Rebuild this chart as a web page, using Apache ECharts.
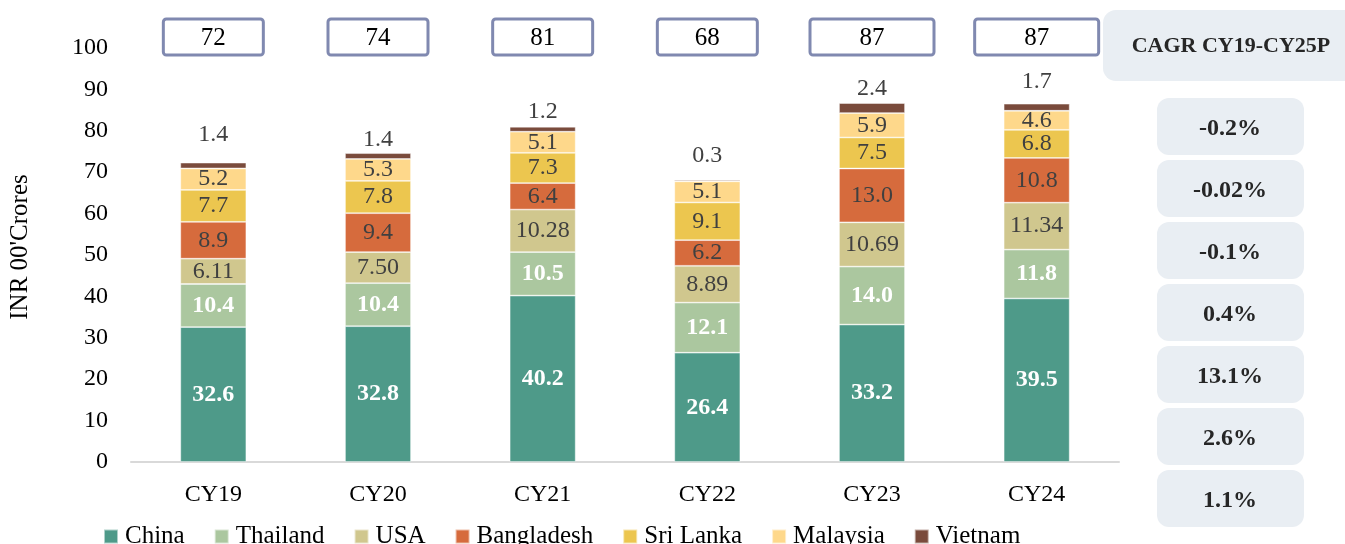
<!DOCTYPE html>
<html>
<head>
<meta charset="utf-8">
<script src="https://cdn.jsdelivr.net/npm/echarts@6/dist/echarts.min.js"></script>
<style>
  html, body { margin: 0; padding: 0; background: #fff; }
  #chart { width: 1345px; height: 544px; }
</style>
</head>
<body>
<div id="chart"></div>
<script>
// Imports by source country, INR 00' Crores
const years = ['CY19', 'CY20', 'CY21', 'CY22', 'CY23', 'CY24'];
const china      = [32.6, 32.8, 40.2, 26.4, 33.2, 39.5];
const thailand   = [10.4, 10.4, 10.5, 12.1, 14.0, 11.8];
const usa        = [6.11, 7.50, 10.28, 8.89, 10.69, 11.34];
const bangladesh = [8.9, 9.4, 6.4, 6.2, 13.0, 10.8];
const sriLanka   = [7.7, 7.8, 7.3, 9.1, 7.5, 6.8];
const malaysia   = [5.2, 5.3, 5.1, 5.1, 5.9, 4.6];
const vietnam    = [1.4, 1.4, 1.2, 0.3, 2.4, 1.7];
const totals     = ['72', '74', '81', '68', '87', '87'];
const cagrTitle  = 'CAGR CY19-CY25P';
const cagrValues = ['-0.2%', '-0.02%', '-0.1%', '0.4%', '13.1%', '2.6%', '1.1%'];

// Layout: how far each Vietnam label sits above its column (px)
const vietnamLabelGap = [16, 1, 3, 12, 2, 10];

const FONT = '"Liberation Serif", "Times New Roman", serif';
const LABEL_DARK = '#404040';

const seriesDefs = [
  { name: 'China',      data: china,      color: '#4e9a89', light: true,  digits: 1 },
  { name: 'Thailand',   data: thailand,   color: '#abc79f', light: true,  digits: 1 },
  { name: 'USA',        data: usa,        color: '#d0c78e', light: false, digits: 2 },
  { name: 'Bangladesh', data: bangladesh, color: '#d66b3d', light: false, digits: 1 },
  { name: 'Sri Lanka',  data: sriLanka,   color: '#ecc64f', light: false, digits: 1 },
  { name: 'Malaysia',   data: malaysia,   color: '#fed88b', light: false, digits: 1 },
  { name: 'Vietnam',    data: vietnam,    color: '#7a4b3c', light: false, digits: 1, outside: true }
];

const series = seriesDefs.map(function (d) {
  const data = d.outside
    ? d.data.map(function (v, i) { return { value: v, label: { distance: vietnamLabelGap[i] } }; })
    : d.data;
  return {
    name: d.name,
    type: 'bar',
    stack: 'total',
    barWidth: 66,
    data: data,
    itemStyle: { color: d.color, borderColor: 'rgba(255,255,255,0.55)', borderWidth: 0.8 },
    emphasis: { disabled: true },
    label: {
      show: true,
      position: d.outside ? 'top' : 'inside',
      distance: 5,
      fontFamily: FONT,
      fontSize: 24,
      fontWeight: d.light ? 'bold' : 'normal',
      color: d.light ? '#ffffff' : LABEL_DARK,
      formatter: function (p) { return Number(p.value).toFixed(d.digits); }
    }
  };
});

const chart = echarts.init(document.getElementById('chart'), null, { renderer: 'canvas' });

chart.setOption({
  animation: false,
  backgroundColor: '#ffffff',
  textStyle: { fontFamily: FONT },
  grid: { left: 131, right: 226, top: 48, bottom: 82, containLabel: false },
  legend: {
    data: seriesDefs.map(function (d) { return d.name; }),
    left: 103,
    top: 524,
    padding: 0,
    itemWidth: 14,
    itemHeight: 14,
    itemGap: 29,
    icon: 'rect',
    textStyle: { fontFamily: FONT, fontSize: 25, color: '#000', padding: [0, 0, 0, 2] }
  },
  xAxis: {
    type: 'category',
    data: years,
    axisLine: { show: true, lineStyle: { color: '#d9d9d9', width: 2 } },
    axisTick: { show: false },
    axisLabel: { fontFamily: FONT, fontSize: 24, color: '#000', margin: 21 }
  },
  yAxis: {
    type: 'value',
    min: 0,
    max: 100,
    interval: 10,
    axisLine: { show: false },
    axisTick: { show: false },
    splitLine: { show: false },
    axisLabel: { fontFamily: FONT, fontSize: 24, color: '#000', margin: 23 }
  },
  series: series
});

// Boxed totals above each column, the axis title and the CAGR panel on the right
const boxWidths = [100, 100, 100, 100, 124, 124];
const graphics = [];

graphics.push({
  type: 'text',
  x: 20, y: 247,
  rotation: Math.PI / 2,
  style: { text: "INR 00'Crores", font: '25px ' + FONT, fill: '#000', align: 'center', verticalAlign: 'middle' }
});

years.forEach(function (y, i) {
  const cx = chart.convertToPixel({ xAxisIndex: 0 }, y);
  const w = boxWidths[i];
  graphics.push({
    type: 'rect',
    shape: { x: cx - w / 2, y: 19, width: w, height: 36, r: 3 },
    style: { fill: '#ffffff', stroke: '#8089b0', lineWidth: 3 },
    z: 10
  });
  graphics.push({
    type: 'text',
    x: cx, y: 38,
    style: { text: totals[i], font: '25px ' + FONT, fill: '#000', align: 'center', verticalAlign: 'middle' },
    z: 11
  });
});

graphics.push({
  type: 'rect',
  shape: { x: 1103, y: 10, width: 270, height: 71, r: 13 },
  style: { fill: '#e9eef3' },
  z: 10
});
graphics.push({
  type: 'text',
  x: 1231, y: 46,
  style: { text: cagrTitle, font: 'bold 22px ' + FONT, fill: '#262626', align: 'center', verticalAlign: 'middle' },
  z: 11
});
cagrValues.forEach(function (v, i) {
  const top = 98 + i * 62;
  graphics.push({
    type: 'rect',
    shape: { x: 1157, y: top, width: 147, height: 57, r: 12 },
    style: { fill: '#e9eef3' },
    z: 10
  });
  graphics.push({
    type: 'text',
    x: 1230, y: top + 31,
    style: { text: v, font: 'bold 24px ' + FONT, fill: '#262626', align: 'center', verticalAlign: 'middle' },
    z: 11
  });
});

chart.setOption({ graphic: graphics });
</script>
</body>
</html>
